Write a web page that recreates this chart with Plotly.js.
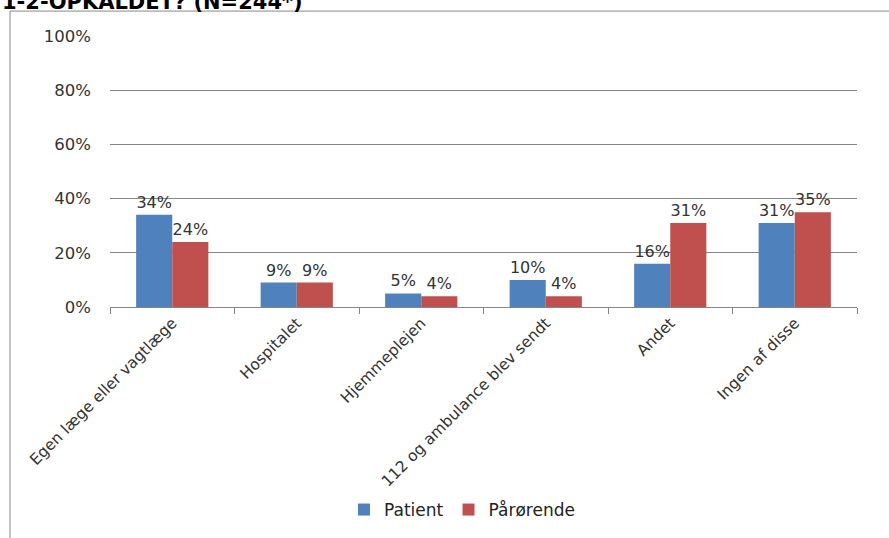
<!DOCTYPE html>
<html><head><meta charset="utf-8">
<script src="https://cdn.plot.ly/plotly-3.0.1.min.js"></script>
<style>html,body{margin:0;padding:0;background:#fff}#c{width:889px;height:538px}</style>
</head><body><div id="c"></div>
<script>
const categories = ["Egen læge eller vagtlæge","Hospitalet","Hjemmeplejen","112 og ambulance blev sendt","Andet","Ingen af disse"];
const patient = [0.34,0.09,0.05,0.10,0.16,0.31];
const paaroerende = [0.24,0.09,0.04,0.04,0.31,0.35];
const yTicks = [0,0.2,0.4,0.6,0.8,1.0];
const titleText = "1-2-OPKALDET? (N=244*)";

const W=889,H=538,L=110,R=32,T=36,B=230;
const pw=W-L-R, ph=H-T-B;
const px=x=>(x-L)/pw, py=y=>(H-B-y)/ph;
const labelFont={family:"DejaVu Sans",size:16,color:"#333"};
function tr(name,vals,color){
  return {type:"bar",name:name,x:categories,y:vals,marker:{color:color},
    text:vals.map(v=>Math.round(v*100)+"%"),textposition:"outside",
    textfont:labelFont,cliponaxis:false,hoverinfo:"none"};
}
const data=[tr("Patient",patient,"#4F81BD"),tr("Pårørende",paaroerende,"#C0504D")];
const layout={
  width:W,height:H,margin:{l:L,r:R,t:T,b:B},
  paper_bgcolor:"#fff",plot_bgcolor:"#fff",
  barmode:"group",bargap:0.42,bargroupgap:0,
  showlegend:true,
  legend:{orientation:"h",x:px(462),xanchor:"center",y:py(510),yanchor:"middle",
    font:{family:"DejaVu Sans",size:17,color:"#222"},itemwidth:30},
  xaxis:{type:"category",tickangle:-45,tickson:"boundaries",ticks:"outside",ticklen:6,
    tickcolor:"#868686",showline:true,linecolor:"#868686",linewidth:1,showgrid:false,
    tickfont:{family:"DejaVu Sans",size:15.5,color:"#333"}},
  yaxis:{range:[0,1],tickvals:yTicks,tickformat:".0%",showgrid:true,gridcolor:"#868686",
    gridwidth:1,zeroline:false,showline:false,ticks:"",ticklabelstandoff:18,
    tickfont:{family:"DejaVu Sans",size:16.5,color:"#333"}},
  shapes:[{type:"rect",xref:"paper",yref:"paper",x0:px(10),x1:px(1000),y0:py(11),y1:py(700),
    line:{color:"#888",width:1},fillcolor:"rgba(0,0,0,0)"}],
  annotations:[{xref:"paper",yref:"paper",x:px(0),y:py(16),xanchor:"left",yanchor:"bottom",
    text:"<b>"+titleText+"</b>",showarrow:false,font:{family:"DejaVu Sans",size:21,color:"#000"}}]
};
Plotly.newPlot("c",data,layout,{displayModeBar:false,staticPlot:true});
</script></body></html>
